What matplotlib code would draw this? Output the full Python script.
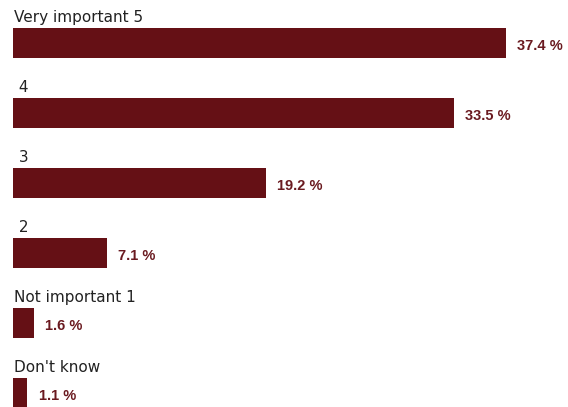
import matplotlib.pyplot as plt

categories = ["Very important 5", " 4", " 3", " 2", "Not important 1", "Don't know"]
shares = [37.4, 33.5, 19.2, 7.1, 1.6, 1.1]

BAR_COLOR = "#651015"
VALUE_COLOR = "#6a1a20"
TEXT_COLOR = "#222222"

W, H, DPI = 568, 407, 100
fig = plt.figure(figsize=(W / DPI, H / DPI), dpi=DPI)
left = 13 / W
ax = fig.add_axes([left, 0, 1 - left, 1])

# 13.17 px per percentage point, one row every 70 px
px_per_pct = 13.17
row_px = 70
ax.set_xlim(0, (W - 13) / px_per_pct)
ax.set_ylim((H - 43) / row_px, -43 / row_px)

bar_h = 30 / row_px
ys = list(range(len(categories)))
ax.barh(ys, shares, height=bar_h, color=BAR_COLOR, align="center")

for y, cat, v in zip(ys, categories, shares):
    ax.text(0.05, y - bar_h / 2 - 6 / row_px, cat, ha="left", va="baseline",
            fontsize=11, color=TEXT_COLOR, family="DejaVu Sans")
    ax.text(v + 0.85, y + 3 / row_px, f"{v:.1f} %", ha="left", va="center",
            fontsize=10.5, fontweight="bold", color=VALUE_COLOR,
            family="Liberation Sans")

ax.axis("off")
fig.savefig("out.png", dpi=DPI)
